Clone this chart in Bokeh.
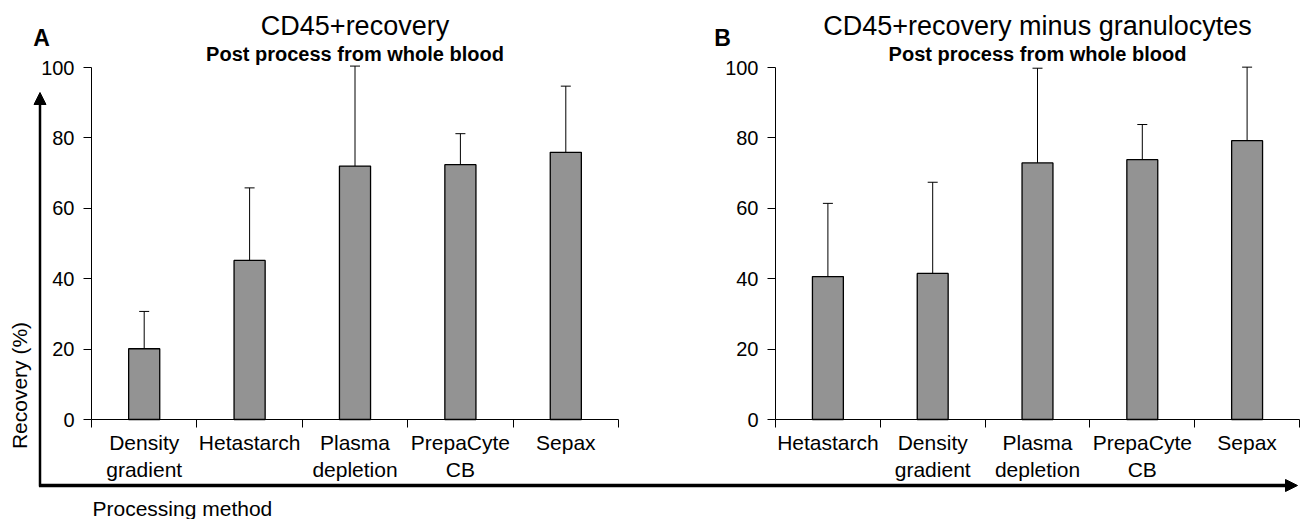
import math
from bokeh.plotting import figure
from bokeh.models import (ColumnDataSource, Range1d, FixedTicker, Whisker, TeeHead,
                          Arrow, NormalHead, Label, LinearAxis)
from bokeh.embed import file_html
from bokeh.resources import INLINE

# ---------------- data ----------------
categories_a = ["Density gradient", "Hetastarch", "Plasma depletion", "PrepaCyte CB", "Sepax"]
tick_labels_a = ["Density\ngradient", "Hetastarch", "Plasma\ndepletion", "PrepaCyte\nCB", "Sepax"]
recovery_a = [20.1, 45.2, 72.0, 72.4, 75.9]
sd_a = [10.6, 20.6, 28.4, 8.8, 18.8]

categories_b = ["Hetastarch", "Density gradient", "Plasma depletion", "PrepaCyte CB", "Sepax"]
tick_labels_b = ["Hetastarch", "Density\ngradient", "Plasma\ndepletion", "PrepaCyte\nCB", "Sepax"]
recovery_b = [40.6, 41.5, 72.9, 73.8, 79.2]
sd_b = [20.8, 25.9, 26.9, 10.0, 20.9]

y_ticks = [0, 20, 40, 60, 80, 100]
title_a = "CD45+recovery"
title_b = "CD45+recovery minus granulocytes"
subtitle = "Post process from whole blood"
y_label = "Recovery (%)"
x_label = "Processing method"

FONT = "Liberation Sans"
BAR_FILL = "#939393"

# ---------------- layout (pixels) ----------------
W, H = 1304, 519
Y0_PX, Y100_PX = 419, 67          # pixel rows of y = 0 and y = 100
UY = (Y0_PX - Y100_PX) / 100.0
A_LEFT, A_RIGHT = 91, 618         # pixel columns of panel A x-axis ends
B_LEFT, B_RIGHT = 775, 1299       # pixel columns of panel B x-axis ends
N = len(categories_a)


def ax(px):
    return (px - A_LEFT) / ((A_RIGHT - A_LEFT) / N)


def bx(px):
    return (px - B_LEFT) / ((B_RIGHT - B_LEFT) / N)


def yy(py):
    return (Y0_PX - py) / UY


p = figure(width=W, height=H, output_backend="svg", toolbar_location=None,
           x_axis_type=None, y_axis_type=None,
           x_range=Range1d(ax(0), ax(W)), y_range=Range1d(yy(H), yy(0)),
           min_border=0, min_border_left=0, min_border_right=0,
           min_border_top=0, min_border_bottom=0)
p.extra_x_ranges = {"b": Range1d(bx(0), bx(W))}
p.outline_line_color = None
p.background_fill_color = "white"
p.border_fill_color = "white"


def add_panel(categories, tick_labels, values, sds, title, letter, range_name,
              y_axis_loc, letter_x):
    n = len(categories)
    xs = [i + 0.5 for i in range(n)]
    src = ColumnDataSource(dict(x=xs, top=values,
                                upper=[v + s for v, s in zip(values, sds)],
                                cat=categories))
    p.vbar(x="x", top="top", width=0.295, bottom=0, source=src, x_range_name=range_name,
           fill_color=BAR_FILL, line_color="black", line_width=1.3)
    p.add_layout(Whisker(source=src, base="x", lower="top", upper="upper",
                         dimension="height", lower_head=None, x_range_name=range_name,
                         upper_head=TeeHead(size=10, line_color="black", line_width=1),
                         line_color="black", line_width=1))

    xa = LinearAxis(x_range_name=range_name, fixed_location=0, bounds=(0, n),
                    ticker=FixedTicker(ticks=xs, minor_ticks=list(range(n + 1))))
    xa.major_label_overrides = {x: t for x, t in zip(xs, tick_labels)}
    xa.major_tick_line_color = None
    xa.major_tick_out = 0
    xa.major_tick_in = 0
    xa.minor_tick_line_color = "black"
    xa.minor_tick_out = 8
    xa.minor_tick_in = 0
    xa.axis_line_color = "black"
    xa.major_label_text_font = FONT
    xa.major_label_text_font_size = "21px"
    xa.major_label_text_color = "black"
    xa.major_label_standoff = 3
    p.add_layout(xa, "below")

    ya = LinearAxis(fixed_location=y_axis_loc, bounds=(0, 100),
                    ticker=FixedTicker(ticks=y_ticks))
    ya.major_tick_out = 8
    ya.major_tick_in = 0
    ya.minor_tick_line_color = None
    ya.axis_line_color = "black"
    ya.major_tick_line_color = "black"
    ya.major_label_text_font = FONT
    ya.major_label_text_font_size = "20px"
    ya.major_label_text_color = "black"
    ya.major_label_standoff = 9
    p.add_layout(ya, "left")

    p.add_layout(Label(x=n / 2, y=yy(25), text=title, text_align="center",
                       x_range_name=range_name,
                       text_baseline="middle", text_font=FONT,
                       text_font_size="27px", text_color="black"))
    p.add_layout(Label(x=n / 2, y=yy(53), text=subtitle, text_align="center",
                       x_range_name=range_name,
                       text_baseline="middle", text_font=FONT, text_font_style="bold",
                       text_font_size="20px", text_color="black"))
    p.add_layout(Label(x=letter_x, y=yy(37), text=letter, text_align="center",
                       text_baseline="middle", text_font=FONT, text_font_style="bold",
                       text_font_size="23px", text_color="black"))


add_panel(categories_a, tick_labels_a, recovery_a, sd_a, title_a, "A", "default",
          ax(A_LEFT), ax(41))
add_panel(categories_b, tick_labels_b, recovery_b, sd_b, title_b, "B", "b",
          ax(B_LEFT), ax(722))

p.add_layout(Label(x=ax(19), y=yy(385), text=y_label, angle=math.pi / 2,
                   text_align="center", text_baseline="middle", text_font=FONT,
                   text_font_size="21px", text_color="black"))
p.add_layout(Label(x=ax(92), y=yy(508), text=x_label, text_align="left",
                   text_baseline="middle", text_font=FONT, text_font_size="21px",
                   text_color="black"))

# vertical arrow
p.add_layout(Arrow(x_start=ax(39.5), y_start=yy(486), x_end=ax(39.5), y_end=yy(92),
                   line_width=2.5, line_color="black",
                   end=NormalHead(size=12, fill_color="black", line_color="black",
                                  line_width=1)))
# horizontal arrow across both panels
p.add_layout(Arrow(x_start=ax(38.5), y_start=yy(485), x_end=ax(1297), y_end=yy(485),
                   line_width=3.5, line_color="black",
                   end=NormalHead(size=12, fill_color="black", line_color="black",
                                  line_width=1)))

open("out.html", "w").write(file_html(p, INLINE))
